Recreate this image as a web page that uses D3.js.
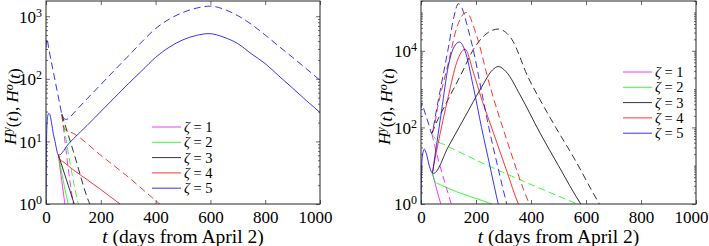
<!DOCTYPE html>
<html lang="en">
<head>
<meta charset="UTF-8">
<title>H young / H old</title>
<style>
  body { margin: 0; background: #fff; }
  svg text { font-family: "Liberation Serif", "DejaVu Serif", serif; fill: #000; }
</style>
</head>
<body>
<svg id="chart" width="709" height="246"></svg>
<script src="https://d3js.org/d3.v7.min.js"></script>
<script>
const zetas = [1, 2, 3, 4, 5];
const colors = ["#ff00ff", "#00ff00", "#000000", "#ff0000", "#0000ff"];
const xTicks = [0, 200, 400, 600, 800, 1000];

// left panel: [day, value], solid = H^y, dashed = H^o, one array per zeta
const leftSolid = [
  [[45, 6.1], [69, 1], [75, 0.65]],
  [[45, 6.1], [81, 1], [88, 0.75]],
  [[45, 6.1], [103, 1], [110, 0.8]],
  [[45, 6.1], [48, 5.5], [53, 5.0], [60, 4.8], [100, 3.5], [150, 2.45], [200, 1.7], [270, 1.0], [290, 0.86]],
  [[0, 0.6], [1, 4], [3, 16], [6, 25], [10, 28], [14, 27], [20, 20], [27, 13], [33, 10], [40, 7], [45, 6.1],
   [50, 6.1], [60, 6.7], [81, 9], [100, 11], [150, 18], [200, 30], [250, 50], [300, 83], [350, 135],
   [400, 220], [450, 320], [500, 420], [550, 495], [595, 527], [650, 460], [700, 365], [750, 250],
   [800, 175], [850, 111], [900, 71], [950, 45], [1000, 29]]
];
const leftDashed = [
  [[58, 27], [100, 1], [104, 0.8]],
  [[58, 27], [118, 1], [122, 0.85]],
  [[58, 27], [100, 6.9], [160, 1], [165, 0.9]],
  [[58, 27], [63, 18], [70, 15.5], [100, 13.4], [200, 6.0], [300, 2.7], [415, 1.0], [425, 0.92]],
  [[0, 320], [3, 440], [10, 305], [20, 182], [30, 110], [40, 66], [50, 40], [58, 27], [65, 23.5],
   [72, 22.5], [81, 23], [90, 25], [100, 28], [150, 48], [200, 81], [250, 137], [300, 230], [350, 390],
   [400, 635], [450, 900], [500, 1150], [550, 1350], [600, 1450], [650, 1290], [700, 1020], [750, 740],
   [800, 500], [850, 330], [900, 220], [950, 145], [1000, 95]]
];

// right panel
const rightSolid = [
  [[41, 6.6], [72, 1], [76, 0.8]],
  [[41, 6.6], [46, 4.8], [52, 3.8], [70, 3.2], [87, 2.8], [257, 1], [265, 0.95]],
  [[41, 6.6], [45, 6.3], [100, 32], [160, 190], [220, 1120], [260, 3160], [281, 3890], [310, 2820],
   [360, 710], [433, 71], [500, 10], [581, 1], [590, 0.8]],
  [[41, 6.6], [60, 32], [99, 630], [130, 5000], [160, 11000], [190, 2800], [220, 560], [251, 130],
   [312, 7.2], [354, 1], [360, 0.8]],
  [[0, 0.5], [2, 8], [6, 20], [12, 27], [20, 20], [30, 10], [41, 6.6], [50, 17], [75, 280], [99, 3900],
   [120, 12600], [140, 17000], [160, 10000], [190, 1175], [220, 100], [251, 9.5], [281, 1], [290, 0.55]]
];
const rightDashed = [
  [[39, 70], [57, 21], [110, 1], [114, 0.8]],
  [[39, 70], [46, 58], [60, 44], [87, 35], [568, 1], [580, 0.92]],
  [[39, 70], [45, 89], [100, 560], [150, 2800], [190, 10700], [230, 25000], [281, 37000], [330, 20000],
   [390, 2000], [433, 525], [490, 100], [554, 17], [649, 1], [655, 0.85]],
  [[39, 70], [45, 85], [60, 316], [100, 5000], [130, 40000], [165, 100000], [200, 28000], [251, 1175],
   [312, 47], [394, 1], [400, 0.8]],
  [[0, 320], [3, 440], [10, 305], [20, 182], [30, 110], [39, 70], [44, 90], [50, 160], [75, 1450],
   [100, 12600], [120, 79000], [136, 170000], [150, 126000], [170, 40000], [190, 10700], [220, 890],
   [251, 71], [280, 8.9], [312, 1], [318, 0.7]]
];

const leftYLabels = [1, 10, 100, 1000];
const rightYLabels = [1, 100, 10000];

const svg = d3.select("#chart");

function drawPanel(id, opt) {
  const x = d3.scaleLinear().domain([0, 1000]).range([opt.left, opt.right]);
  const y = d3.scaleLog().domain([1, opt.yMax]).range([opt.bottom, opt.top]);
  const g = svg.append("g");

  g.append("clipPath").attr("id", "clip" + id)
    .append("rect")
    .attr("x", opt.left).attr("y", opt.top)
    .attr("width", opt.right - opt.left).attr("height", opt.bottom - opt.top);

  // minor ticks for log axis
  const decades = Math.ceil(Math.log10(opt.yMax));
  const minor = [];
  for (let e = 0; e < decades; e++) {
    for (let k = 1; k <= 9; k++) {
      const v = k * Math.pow(10, e);
      if (v <= opt.yMax && !opt.yLabels.includes(v)) minor.push(v);
    }
  }

  const line = d3.line()
    .x(d => x(d[0]))
    .y(d => y(d[1]))
    .curve(d3.curveMonotoneX);

  const plot = g.append("g").attr("clip-path", `url(#clip${id})`);
  zetas.forEach((z, i) => {
    plot.append("path")
      .attr("d", line(opt.dashed[i]))
      .attr("fill", "none")
      .attr("stroke", colors[i])
      .attr("stroke-width", 0.8)
      .attr("stroke-dasharray", "7,4");
    plot.append("path")
      .attr("d", line(opt.solid[i]))
      .attr("fill", "none")
      .attr("stroke", colors[i])
      .attr("stroke-width", 0.8);
  });

  // axes, ticks pointing inward on all four sides
  const axB = g.append("g").attr("transform", `translate(0,${opt.bottom})`)
    .call(d3.axisBottom(x).tickValues(xTicks).tickFormat(d3.format("d")).tickSize(-4).tickPadding(7));
  g.append("g").attr("transform", `translate(0,${opt.top})`)
    .call(d3.axisTop(x).tickValues(xTicks).tickFormat("").tickSize(-4));

  const axL = g.append("g").attr("transform", `translate(${opt.left},0)`)
    .call(d3.axisLeft(y).tickValues(opt.yLabels).tickSize(-4).tickPadding(4));
  g.append("g").attr("transform", `translate(${opt.left},0)`)
    .call(d3.axisLeft(y).tickValues(minor).tickFormat("").tickSize(-2));
  g.append("g").attr("transform", `translate(${opt.right},0)`)
    .call(d3.axisRight(y).tickValues(opt.yLabels).tickFormat("").tickSize(-4));
  g.append("g").attr("transform", `translate(${opt.right},0)`)
    .call(d3.axisRight(y).tickValues(minor).tickFormat("").tickSize(-2));

  g.selectAll(".domain").remove();
  g.selectAll(".tick line").attr("stroke", "#262626").attr("stroke-width", 0.7);

  axB.selectAll("text").style("font-size", "17px").attr("fill", "#000")
    .attr("dx", d => d === 1000 ? -5 : 0);
  axL.selectAll("text").each(function(d) {
    const t = d3.select(this);
    t.text("").style("font-size", "17px").attr("fill", "#000").attr("dy", "0.35em");
    t.append("tspan").text("10");
    t.append("tspan").text(Math.round(Math.log10(d)))
      .attr("dy", "-0.5em").style("font-size", "12px");
  });

  g.append("rect")
    .attr("x", opt.left).attr("y", opt.top)
    .attr("width", opt.right - opt.left).attr("height", opt.bottom - opt.top)
    .attr("fill", "none").attr("stroke", "#262626").attr("stroke-width", 1);

  // axis titles
  const xl = g.append("text")
    .attr("x", (opt.left + opt.right) / 2).attr("y", 243)
    .attr("text-anchor", "middle").style("font-size", "19.5px");
  xl.append("tspan").attr("font-style", "italic").text("t");
  xl.append("tspan").text(" (days from April 2)");

  const yl = g.append("text")
    .attr("transform", `translate(${opt.ylabelX},${(opt.top + opt.bottom) / 2 + 4}) rotate(-90)`)
    .attr("text-anchor", "middle").style("font-size", "17px");
  yl.append("tspan").attr("font-style", "italic").text("H");
  yl.append("tspan").attr("font-style", "italic").attr("dy", "-0.4em").style("font-size", "12px").text("y");
  yl.append("tspan").attr("dy", "0.4em").text("(");
  yl.append("tspan").attr("font-style", "italic").text("t");
  yl.append("tspan").text("), ");
  yl.append("tspan").attr("font-style", "italic").text("H");
  yl.append("tspan").attr("font-style", "italic").attr("dy", "-0.4em").style("font-size", "12px").text("o");
  yl.append("tspan").attr("dy", "0.4em").text("(");
  yl.append("tspan").attr("font-style", "italic").text("t");
  yl.append("tspan").text(")");

  // legend
  const lg = g.append("g");
  zetas.forEach((z, i) => {
    const ly = opt.legendY + i * 15.3;
    lg.append("line")
      .attr("x1", opt.legendX).attr("x2", opt.legendX + 29)
      .attr("y1", ly).attr("y2", ly)
      .attr("stroke", colors[i]).attr("stroke-width", 0.8);
    const t = lg.append("text")
      .attr("x", opt.legendX + 32).attr("y", ly + 5)
      .style("font-size", "14.5px");
    t.append("tspan").attr("font-style", "italic").text("ζ");
    t.append("tspan").text(" = " + z);
  });
}

drawPanel("L", {
  left: 46, right: 320, top: 1, bottom: 204, yMax: 1750,
  yLabels: leftYLabels, solid: leftSolid, dashed: leftDashed,
  legendX: 152, legendY: 127, ylabelX: 16
});
drawPanel("R", {
  left: 421, right: 696, top: 1, bottom: 204, yMax: 2.0e5,
  yLabels: rightYLabels, solid: rightSolid, dashed: rightDashed,
  legendX: 623, legendY: 72, ylabelX: 390
});
</script>
</body>
</html>
